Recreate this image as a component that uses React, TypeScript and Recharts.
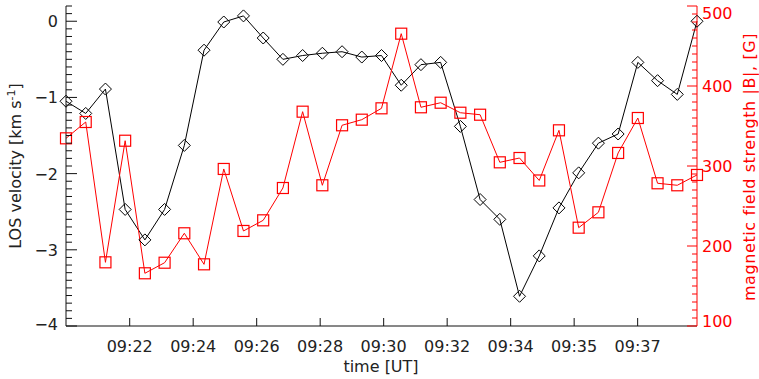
import React from 'react';
import { ComposedChart, Line, XAxis, YAxis } from 'recharts';

const timeLabels = ['09:22', '09:24', '09:26', '09:28', '09:30', '09:32', '09:34', '09:35', '09:37'];
const timeTickFrames = [3.23, 6.45, 9.67, 12.89, 16.11, 19.33, 22.55, 25.77, 28.99];

const losVelocity = [
  -1.05, -1.21, -0.89, -2.47, -2.87, -2.47, -1.63, -0.38, -0.01, 0.07, -0.22,
  -0.5, -0.45, -0.42, -0.4, -0.47, -0.45, -0.84, -0.57, -0.54, -1.38, -2.34,
  -2.6, -3.61, -3.08, -2.45, -1.99, -1.6, -1.48, -0.54, -0.78, -0.96, 0.0,
];

const fieldStrength = [
  334.6, 355, 179.6, 331.6, 165.9, 179.1, 215.9, 177.1, 296.3, 218.8, 232.1,
  272.5, 367.9, 275.9, 350.9, 357.9, 372.1, 465.4, 373.4, 379.1, 366.6, 364.1,
  304.6, 310, 281.9, 344.6, 222.9, 242.1, 316.3, 360, 278.4, 275.9, 288.8,
];

const leftMajor = [-4, -3, -2, -1, 0];
const rightMajor = [100, 200, 300, 400, 500];

const leftTicks: number[] = [];
for (let i = 0; i <= 42; i++) leftTicks.push(Math.round((-4 + i * 0.1) * 10) / 10);
const rightTicks: number[] = [];
for (let i = 0; i <= 40; i++) rightTicks.push(100 + i * 10);

const data = losVelocity.map((v, i) => ({ frame: i, v, b: fieldStrength[i] }));

const FONT = '"DejaVu Sans", sans-serif';
const AXIS = '#111';
const RED = '#ff0000';

const fmtLeft = (v: number) => (v < 0 ? '\u2212' + String(-v) : String(v));

const BottomTick = (props: any) => {
  const { x, y, index } = props;
  return (
    <g>
      <line x1={x} y1={y} x2={x} y2={y - 8} stroke={AXIS} strokeWidth={1} />
      <text x={x} y={y + 26} textAnchor="middle" fontFamily={FONT} fontSize={16} fill="#222">
        {timeLabels[index]}
      </text>
    </g>
  );
};

const TopTick = (props: any) => {
  const { x, y } = props;
  return <line x1={x} y1={y} x2={x} y2={y + 7} stroke={AXIS} strokeWidth={1} />;
};

const LeftTick = (props: any) => {
  const { x, y, payload } = props;
  const v = payload.value;
  const major = leftMajor.includes(v);
  const dy = v === -4 ? 4 : 6;
  return (
    <g>
      <line x1={x} y1={y} x2={x + (major ? 11 : 6)} y2={y} stroke={AXIS} strokeWidth={1} />
      {major && (
        <text x={x - 8} y={y + dy} textAnchor="end" fontFamily={FONT} fontSize={16} fill="#222">
          {fmtLeft(v)}
        </text>
      )}
    </g>
  );
};

const RightTick = (props: any) => {
  const { x, y, payload } = props;
  const v = payload.value;
  const major = rightMajor.includes(v);
  let dy = 6;
  if (v === 500) dy = 13;
  if (v === 100) dy = 1;
  return (
    <g>
      <line x1={x} y1={y} x2={x - (major ? 10 : 5)} y2={y} stroke={RED} strokeWidth={1} />
      {major && (
        <text x={x + 5} y={y + dy} textAnchor="start" fontFamily={FONT} fontSize={16} fill={RED}>
          {String(v)}
        </text>
      )}
    </g>
  );
};

const Diamond = (p: any) => {
  const { cx, cy, index } = p;
  if (cx == null || cy == null) return <g key={`d${index}`} />;
  const r = 6;
  return (
    <path
      key={`d${index}`}
      d={`M${cx},${cy - r}L${cx + r},${cy}L${cx},${cy + r}L${cx - r},${cy}Z`}
      fill="none"
      stroke="#000"
      strokeWidth={1}
    />
  );
};

const Square = (p: any) => {
  const { cx, cy, index } = p;
  if (cx == null || cy == null) return <g key={`s${index}`} />;
  const h = 5.5;
  return (
    <rect key={`s${index}`} x={cx - h} y={cy - h} width={2 * h} height={2 * h} fill="none" stroke={RED} strokeWidth={1.2} />
  );
};

export default function App() {
  return (
    <div style={{ position: 'absolute', left: 0, top: 0, width: 759, height: 379, background: '#fff' }}>
      <ComposedChart width={759} height={379} data={data} margin={{ top: 6, right: 0, bottom: 0, left: 0 }}>
        <XAxis
          dataKey="frame"
          type="number"
          domain={[0, 32]}
          ticks={timeTickFrames}
          interval={0}
          height={53}
          tickSize={0}
          tickMargin={0}
          tickLine={false}
          axisLine={{ stroke: AXIS }}
          tick={BottomTick}
        />
        <XAxis
          xAxisId="top"
          orientation="top"
          dataKey="frame"
          type="number"
          domain={[0, 32]}
          ticks={timeTickFrames}
          interval={0}
          height={0}
          tickSize={0}
          tickMargin={0}
          tickLine={false}
          axisLine={{ stroke: AXIS }}
          tick={TopTick}
        />
        <YAxis
          yAxisId="left"
          type="number"
          domain={[-4, 0.2]}
          ticks={leftTicks}
          interval={0}
          width={66}
          tickSize={0}
          tickMargin={0}
          tickLine={false}
          axisLine={{ stroke: AXIS }}
          tick={LeftTick}
        />
        <YAxis
          yAxisId="right"
          orientation="right"
          type="number"
          domain={[100, 500]}
          ticks={rightTicks}
          interval={0}
          width={62}
          tickSize={0}
          tickMargin={0}
          tickLine={false}
          axisLine={{ stroke: RED }}
          tick={RightTick}
        />
        <Line
          yAxisId="left"
          dataKey="v"
          type="linear"
          stroke="#000"
          strokeWidth={1}
          dot={Diamond}
          activeDot={false}
          isAnimationActive={false}
        />
        <Line
          yAxisId="right"
          dataKey="b"
          type="linear"
          stroke={RED}
          strokeWidth={1}
          dot={Square}
          activeDot={false}
          isAnimationActive={false}
        />
        <text x={381} y={372} textAnchor="middle" fontFamily={FONT} fontSize={16} fill="#222">
          time [UT]
        </text>
        <text transform="translate(21,166) rotate(-90)" textAnchor="middle" fontFamily={FONT} fontSize={16} fill="#222">
          LOS velocity [km s<tspan dy={-6} fontSize={11}>-1</tspan><tspan dy={6}>]</tspan>
        </text>
        <text
          transform="translate(755,167) rotate(-90)"
          textAnchor="middle"
          fontFamily={FONT}
          fontSize={16}
          letterSpacing={0.6}
          fill={RED}
        >
          magnetic field strength |B|, [G]
        </text>
      </ComposedChart>
    </div>
  );
}
